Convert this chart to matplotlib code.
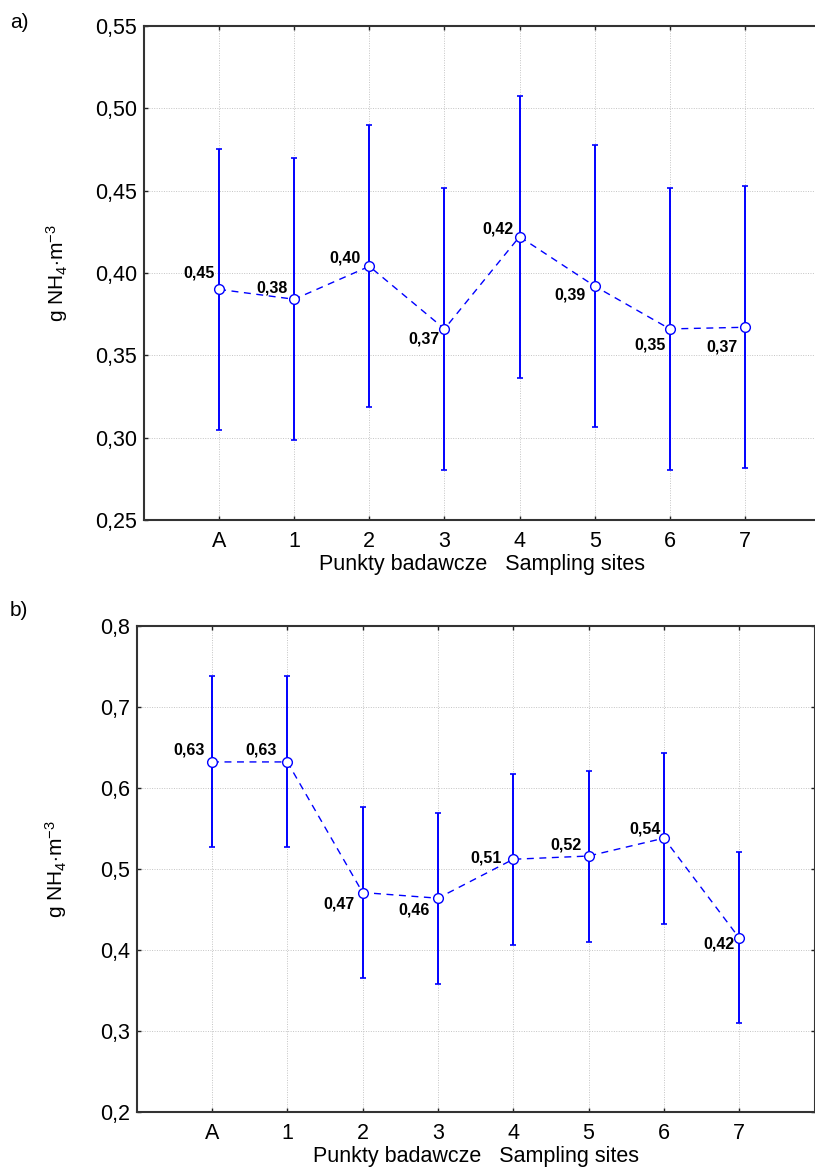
import numpy as np
import matplotlib
matplotlib.use("Agg")
import matplotlib.pyplot as plt

plt.rcParams['font.family'] = ['Liberation Sans', 'DejaVu Sans']
plt.rcParams['mathtext.fontset'] = 'custom'
plt.rcParams['mathtext.rm'] = 'Liberation Sans'
plt.rcParams['mathtext.it'] = 'Liberation Sans:italic'

sites = ['A', '1', '2', '3', '4', '5', '6', '7']

# panel a
means_a = [0.390, 0.384, 0.404, 0.366, 0.422, 0.392, 0.366, 0.367]
err_a = [0.0855, 0.0855, 0.0855, 0.0855, 0.0855, 0.0855, 0.0855, 0.0855]
labels_a = ['0,45', '0,38', '0,40', '0,37', '0,42', '0,39', '0,35', '0,37']
yticks_a = [0.25, 0.30, 0.35, 0.40, 0.45, 0.50, 0.55]
yticklabels_a = ['0,25', '0,30', '0,35', '0,40', '0,45', '0,50', '0,55']

# panel b
means_b = [0.632, 0.632, 0.471, 0.464, 0.512, 0.516, 0.538, 0.415]
err_b = [0.1054, 0.1054, 0.1054, 0.1054, 0.1054, 0.1054, 0.1054, 0.1054]
labels_b = ['0,63', '0,63', '0,47', '0,46', '0,51', '0,52', '0,54', '0,42']
yticks_b = [0.2, 0.3, 0.4, 0.5, 0.6, 0.7, 0.8]
yticklabels_b = ['0,2', '0,3', '0,4', '0,5', '0,6', '0,7', '0,8']

# label offsets in pixels (dx to right edge, dy to baseline)
offs_a = [(-4, 12), (-7, 7), (-9, 4), (-5, -15), (-6, 3), (-9, -13), (-4, -21), (-7, -24)]
offs_b = [(-7, 7), (-11, 7), (-8, -16), (-8, -16), (-12, -3), (-7, 7), (-3, 5), (-5, -11)]

fig = plt.figure(figsize=(8.15, 11.71), dpi=100)
ax1 = fig.add_axes([0.1767, 0.5559, 0.8294, 0.4221])
ax2 = fig.add_axes([0.1677, 0.0501, 0.8317, 0.4156])

x = np.arange(len(sites))
blue = '#0000FF'


def draw(ax, means, err, labels, offs, yt, ytl, ylim, lab_x):
    ax.errorbar(x, means, yerr=err, fmt='none', ecolor=blue, elinewidth=1.4,
                capsize=2.5, capthick=1.2, zorder=3)
    ax.plot(x, means, linestyle=(0, (5, 4)), color=blue, lw=1.0,
            marker='o', ms=7, mfc='white', mec=blue, mew=1.0, zorder=4)
    for xi, yi, t, (dx, dy) in zip(x, means, labels, offs):
        ax.annotate(t, (xi, yi), xytext=(dx, dy), textcoords='offset pixels',
                    ha='right', va='baseline', fontsize=11.5, fontweight='bold',
                    zorder=5)
    ax.set_xlim(-1, 8)
    ax.set_ylim(*ylim)
    ax.set_xticks(x)
    ax.set_xticklabels(sites)
    ax.set_yticks(yt)
    ax.set_yticklabels(ytl)
    ax.grid(True, color='#c4c4c4', linestyle=(0, (1, 1.5)), lw=0.7)
    ax.set_axisbelow(True)
    ax.tick_params(direction='in', length=3, width=1, top=True, right=True,
                   labelsize=15.5, color='#222222')
    ax.tick_params(axis='x', pad=8)
    ax.tick_params(axis='y', pad=5)
    for s in ax.spines.values():
        s.set_linewidth(1.5)
        s.set_color('#333333')
    ax.set_xlabel('Punkty badawcze   Sampling sites', fontsize=15.5, labelpad=1)
    ax.set_ylabel(r'g NH$_4$$\cdot$m$^{-3}$', fontsize=15)
    ax.yaxis.set_label_coords(lab_x, 0.5)


draw(ax1, means_a, err_a, labels_a, offs_a, yticks_a, yticklabels_a, (0.25, 0.55), -0.11)
draw(ax2, means_b, err_b, labels_b, offs_b, yticks_b, yticklabels_b, (0.2, 0.8), -0.10)

fig.text(0.012, 0.981, 'a)', fontsize=15, va='center')
fig.text(0.012, 0.479, 'b)', fontsize=15, va='center')

fig.savefig('out.png', dpi=100)
